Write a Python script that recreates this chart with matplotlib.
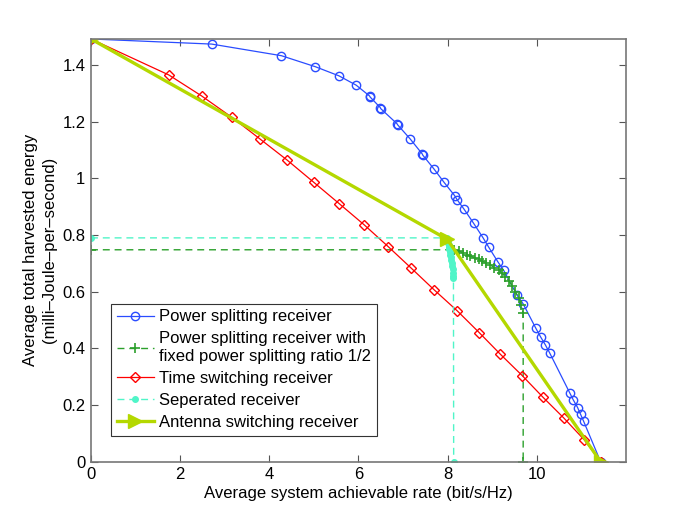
import numpy as np
import matplotlib
matplotlib.use('Agg')
import matplotlib.pyplot as plt

plt.rcParams['font.family'] = ['Liberation Sans', 'DejaVu Sans']

# power splitting receiver (blue circles)
ps_rate = [0, 2.706, 4.270, 5.034, 5.560, 5.948, 6.247, 6.262, 6.488, 6.500,
           6.863, 6.878, 7.155, 7.431, 7.442, 7.694, 7.919, 8.157, 8.211, 8.369,
           8.584, 8.791, 8.921, 9.124, 9.258, 9.560, 9.694, 9.978, 10.083,
           10.189, 10.285, 10.735, 10.818, 10.915, 10.982, 11.049, 11.431]
ps_energy = [1.492, 1.474, 1.433, 1.394, 1.362, 1.329, 1.291, 1.287, 1.250, 1.246,
             1.193, 1.189, 1.140, 1.086, 1.082, 1.033, 0.986, 0.939, 0.925, 0.891,
             0.841, 0.791, 0.757, 0.706, 0.675, 0.587, 0.557, 0.471, 0.441,
             0.413, 0.385, 0.244, 0.218, 0.191, 0.167, 0.143, 0.0]

# power splitting with fixed ratio 1/2 (green +)
fps_rate = [0, 8.151, 8.247, 8.346, 8.436, 8.510, 8.607, 8.697, 8.773, 8.870,
            8.960, 9.049, 9.146, 9.222, 9.297, 9.371, 9.447, 9.521, 9.596,
            9.649, 9.694, 9.694]
fps_energy = [0.748, 0.748, 0.744, 0.737, 0.730, 0.725, 0.720, 0.714, 0.708, 0.701,
              0.694, 0.685, 0.677, 0.665, 0.653, 0.638, 0.621, 0.600, 0.577,
              0.553, 0.524, 0.0]

# time switching receiver (red diamonds)
ts_rate = [0, 1.746, 2.481, 3.155, 3.791, 4.404, 4.998, 5.566, 6.121, 6.667,
           7.184, 7.701, 8.218, 8.712, 9.184, 9.672, 10.135, 10.607, 11.065, 11.431]
ts_energy = [1.492, 1.365, 1.291, 1.216, 1.139, 1.064, 0.986, 0.911, 0.837, 0.759,
             0.683, 0.606, 0.532, 0.455, 0.379, 0.304, 0.228, 0.154, 0.077, 0.0]

# separated receiver (cyan dots)
sep_rate = [0, 7.99, 8.00, 8.01, 8.02, 8.03, 8.04, 8.05, 8.06, 8.07, 8.08, 8.09,
            8.10, 8.11, 8.12, 8.125, 8.13, 8.135]
sep_energy = [0.790, 0.790, 0.780, 0.772, 0.765, 0.757, 0.749, 0.740, 0.731, 0.722,
              0.713, 0.703, 0.692, 0.680, 0.667, 0.657, 0.647, 0.0]

# antenna switching receiver (yellow-green triangles)
as_rate = [0, 7.99, 11.431]
as_energy = [1.492, 0.785, 0.0]

fs = 12

fig = plt.figure(figsize=(6.92, 5.19), dpi=100)
ax = fig.add_axes([0.1315, 0.1104, 0.7731, 0.8145])

ax.plot(ps_rate, ps_energy, '-', color='#2a4cff', lw=0.9, marker='o', ms=6,
        mfc='none', mew=1.0, label='Power splitting receiver')
ax.plot(fps_rate, fps_energy, '--', color='#2ca02c', lw=1.0, marker='+', ms=7,
        mew=1.2, dashes=(5, 3.5),
        label='Power splitting receiver with\nfixed power splitting ratio 1/2')
ax.plot(ts_rate, ts_energy, '-', color='#ff0000', lw=0.9, marker='D', ms=5,
        mfc='none', mew=1.0, label='Time switching receiver')
ax.plot(sep_rate, sep_energy, '--', color='#50f5c8', lw=1.0, marker='.', ms=8,
        dashes=(5, 3.5), label='Seperated receiver')
ax.plot(as_rate, as_energy, '-', color='#b4d800', lw=2.4, marker='>', ms=10,
        label='Antenna switching receiver')

ax.set_xlim(0, 12)
ax.set_ylim(0, 1.492)
ax.set_xticks([0, 2, 4, 6, 8, 10])
ax.set_yticks([0, 0.2, 0.4, 0.6, 0.8, 1.0, 1.2, 1.4])
ax.set_yticklabels(['0', '0.2', '0.4', '0.6', '0.8', '1', '1.2', '1.4'])
ax.tick_params(direction='in', top=True, right=True, length=5, width=0.8,
               color='#555555', labelsize=fs, pad=4)
for sp in ax.spines.values():
    sp.set_color('#777777')
    sp.set_linewidth(1.2)

ax.set_xlabel('Average system achievable rate (bit/s/Hz)', fontsize=fs, labelpad=3)
ax.set_ylabel('Average total harvested energy\n(milli\u2013Joule\u2013per\u2013second)',
              fontsize=fs, labelpad=4, linespacing=1.28)

leg = ax.legend(loc='lower left', bbox_to_anchor=(0.038, 0.0615), fontsize=fs,
                handlelength=2.2, borderpad=0.35, labelspacing=0.42,
                handletextpad=0.3, borderaxespad=0, fancybox=False, framealpha=1)
leg.get_frame().set_edgecolor('#333333')
leg.get_frame().set_linewidth(0.8)

fig.savefig('out.png', dpi=100)
